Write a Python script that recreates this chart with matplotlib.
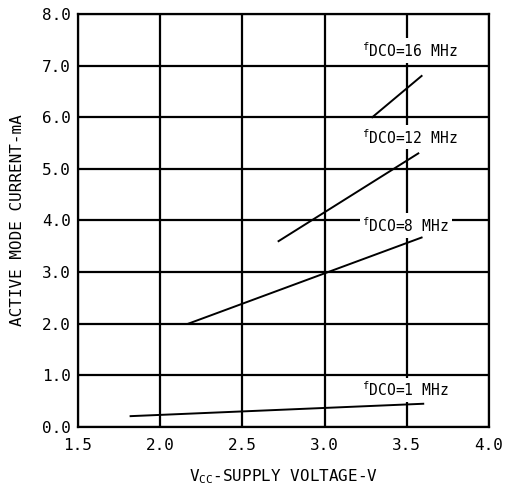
import matplotlib
matplotlib.use("Agg")
import matplotlib.pyplot as plt

plt.rcParams["font.family"] = "DejaVu Sans Mono"
plt.rcParams["mathtext.fontset"] = "custom"
plt.rcParams["mathtext.rm"] = "DejaVu Sans Mono"
plt.rcParams["font.size"] = 10.5

# supply voltage (V) end points of each curve
v_1mhz = [1.82, 3.60]
v_8mhz = [2.17, 3.59]
v_12mhz = [2.72, 3.57]
v_16mhz = [3.29, 3.59]

# active mode current (mA)
i_1mhz = [0.21, 0.45]
i_8mhz = [2.0, 3.67]
i_12mhz = [3.60, 5.30]
i_16mhz = [6.0, 6.80]

curve_labels = ["16 MHz", "12 MHz", "8 MHz", "1 MHz"]
label_x = [3.23, 3.23, 3.23, 3.23]
label_y = [7.17, 5.49, 3.78, 0.60]

x_ticks = [1.5, 2.0, 2.5, 3.0, 3.5, 4.0]
y_ticks = [0.0, 1.0, 2.0, 3.0, 4.0, 5.0, 6.0, 7.0, 8.0]

fig = plt.figure(figsize=(5.07, 4.93), dpi=100)
ax = fig.add_axes([0.1538, 0.1339, 0.8107, 0.8377])

ax.set_xlim(1.5, 4.0)
ax.set_ylim(0, 8.0)
ax.set_xticks(x_ticks)
ax.set_yticks(y_ticks)
ax.set_xticklabels(["%.1f" % t for t in x_ticks], fontsize=11.5)
ax.set_yticklabels(["%.1f" % t for t in y_ticks], fontsize=11.5)
ax.tick_params(length=0, pad=8)
ax.tick_params(axis="y", pad=5)
ax.grid(True, color="black", linewidth=1.6)
for s in ax.spines.values():
    s.set_linewidth(1.6)

for xs, ys in [(v_1mhz, i_1mhz), (v_8mhz, i_8mhz), (v_12mhz, i_12mhz), (v_16mhz, i_16mhz)]:
    ax.plot(xs, ys, color="black", linewidth=1.4, zorder=4)

for lab, lx, ly in zip(curve_labels, label_x, label_y):
    ax.text(lx, ly, r"$^{\mathrm{f}}$DCO=" + lab, ha="left", va="baseline", zorder=3,
            bbox=dict(facecolor="white", edgecolor="none", pad=2))

ax.set_xlabel(r"V$_{\mathrm{CC}}$-SUPPLY VOLTAGE-V", labelpad=10, fontsize=11.5)
ax.set_ylabel("ACTIVE MODE CURRENT-mA", labelpad=12, fontsize=11.5)

fig.savefig("out.png", dpi=100)
